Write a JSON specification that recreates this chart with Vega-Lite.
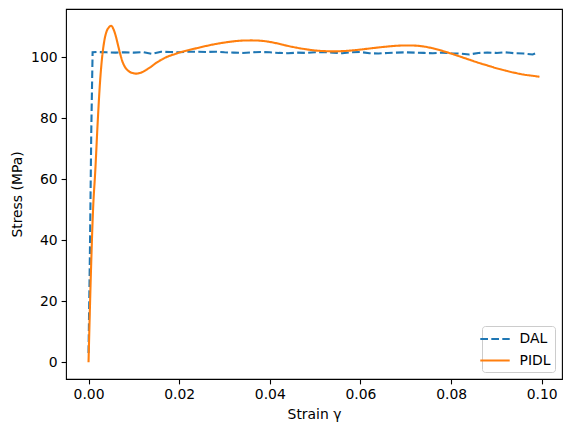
{
  "$schema": "https://vega.github.io/schema/vega-lite/v6.json",
  "width": 496,
  "height": 370,
  "autosize": {"type": "none"},
  "padding": {"left": 66, "top": 9, "right": 9, "bottom": 53},
  "config": {
    "font": "DejaVu Sans",
    "view": {"stroke": "black", "strokeWidth": 1.1},
    "axis": {
      "grid": false,
      "domain": false,
      "tickColor": "black",
      "tickSize": 4.9,
      "tickWidth": 1.1,
      "labelPadding": 4,
      "labelFontSize": 13.9,
      "labelColor": "black",
      "labelFont": "DejaVu Sans",
      "titleFont": "DejaVu Sans",
      "titleFontSize": 13.9,
      "titleFontWeight": "normal",
      "titleColor": "black"
    }
  },
  "datasets": {
    "dal": [
      {"strain": 0, "stress": 3},
      {"strain": 0.0003, "stress": 35},
      {"strain": 0.0006, "stress": 75},
      {"strain": 0.0009, "stress": 101.6},
      {"strain": 0.002, "stress": 101.7},
      {"strain": 0.004, "stress": 101.6},
      {"strain": 0.006, "stress": 101.5},
      {"strain": 0.008, "stress": 101.6},
      {"strain": 0.010, "stress": 101.5},
      {"strain": 0.012, "stress": 101.7},
      {"strain": 0.014, "stress": 101.1},
      {"strain": 0.016, "stress": 101.8},
      {"strain": 0.018, "stress": 101.7},
      {"strain": 0.020, "stress": 101.6},
      {"strain": 0.022, "stress": 101.8},
      {"strain": 0.024, "stress": 101.8},
      {"strain": 0.026, "stress": 101.7},
      {"strain": 0.028, "stress": 101.8},
      {"strain": 0.030, "stress": 101.6},
      {"strain": 0.032, "stress": 101.5},
      {"strain": 0.034, "stress": 101.4},
      {"strain": 0.036, "stress": 101.6},
      {"strain": 0.038, "stress": 101.7},
      {"strain": 0.040, "stress": 101.6},
      {"strain": 0.042, "stress": 101.4},
      {"strain": 0.044, "stress": 101.3},
      {"strain": 0.046, "stress": 101.5},
      {"strain": 0.048, "stress": 101.4},
      {"strain": 0.050, "stress": 101.6},
      {"strain": 0.052, "stress": 101.7},
      {"strain": 0.054, "stress": 101.5},
      {"strain": 0.056, "stress": 101.3},
      {"strain": 0.058, "stress": 101.6},
      {"strain": 0.060, "stress": 101.7},
      {"strain": 0.062, "stress": 101.3},
      {"strain": 0.064, "stress": 101.2},
      {"strain": 0.066, "stress": 101.4},
      {"strain": 0.068, "stress": 101.5},
      {"strain": 0.070, "stress": 101.6},
      {"strain": 0.072, "stress": 101.5},
      {"strain": 0.074, "stress": 101.4},
      {"strain": 0.076, "stress": 101.3},
      {"strain": 0.078, "stress": 101.5},
      {"strain": 0.080, "stress": 101.3},
      {"strain": 0.082, "stress": 101.2},
      {"strain": 0.084, "stress": 100.9},
      {"strain": 0.086, "stress": 101.4},
      {"strain": 0.088, "stress": 101.5},
      {"strain": 0.090, "stress": 101.4},
      {"strain": 0.092, "stress": 101.6},
      {"strain": 0.094, "stress": 101.3},
      {"strain": 0.096, "stress": 101.2},
      {"strain": 0.098, "stress": 100.9},
      {"strain": 0.099, "stress": 101.5}
    ],
    "pidl": [
      {"strain": 0, "stress": 0},
      {"strain": 0.0005, "stress": 28},
      {"strain": 0.001, "stress": 50},
      {"strain": 0.0015, "stress": 63},
      {"strain": 0.002, "stress": 78},
      {"strain": 0.0025, "stress": 91},
      {"strain": 0.003, "stress": 100},
      {"strain": 0.0035, "stress": 105.5},
      {"strain": 0.004, "stress": 108.5},
      {"strain": 0.0045, "stress": 109.8},
      {"strain": 0.005, "stress": 110.3},
      {"strain": 0.0055, "stress": 109.2},
      {"strain": 0.006, "stress": 107},
      {"strain": 0.0065, "stress": 104},
      {"strain": 0.007, "stress": 101},
      {"strain": 0.0075, "stress": 98.5},
      {"strain": 0.008, "stress": 96.9},
      {"strain": 0.009, "stress": 95.3},
      {"strain": 0.010, "stress": 94.7},
      {"strain": 0.0105, "stress": 94.6},
      {"strain": 0.011, "stress": 94.7},
      {"strain": 0.012, "stress": 95.2},
      {"strain": 0.013, "stress": 96.1},
      {"strain": 0.014, "stress": 97.1},
      {"strain": 0.015, "stress": 98.2},
      {"strain": 0.016, "stress": 99.1},
      {"strain": 0.017, "stress": 99.9},
      {"strain": 0.018, "stress": 100.5},
      {"strain": 0.019, "stress": 101.0},
      {"strain": 0.020, "stress": 101.5},
      {"strain": 0.022, "stress": 102.3},
      {"strain": 0.024, "stress": 103.0},
      {"strain": 0.026, "stress": 103.7},
      {"strain": 0.028, "stress": 104.3},
      {"strain": 0.030, "stress": 104.8},
      {"strain": 0.032, "stress": 105.2},
      {"strain": 0.034, "stress": 105.45},
      {"strain": 0.036, "stress": 105.5},
      {"strain": 0.038, "stress": 105.4},
      {"strain": 0.040, "stress": 105.0},
      {"strain": 0.042, "stress": 104.4},
      {"strain": 0.044, "stress": 103.7},
      {"strain": 0.046, "stress": 103.1},
      {"strain": 0.048, "stress": 102.6},
      {"strain": 0.050, "stress": 102.2},
      {"strain": 0.052, "stress": 102.0},
      {"strain": 0.054, "stress": 101.9},
      {"strain": 0.056, "stress": 102.0},
      {"strain": 0.058, "stress": 102.2},
      {"strain": 0.060, "stress": 102.5},
      {"strain": 0.062, "stress": 102.85},
      {"strain": 0.064, "stress": 103.2},
      {"strain": 0.066, "stress": 103.5},
      {"strain": 0.068, "stress": 103.75},
      {"strain": 0.070, "stress": 103.85},
      {"strain": 0.072, "stress": 103.8},
      {"strain": 0.074, "stress": 103.5},
      {"strain": 0.076, "stress": 102.9},
      {"strain": 0.078, "stress": 102.1},
      {"strain": 0.080, "stress": 101.2},
      {"strain": 0.082, "stress": 100.2},
      {"strain": 0.084, "stress": 99.2},
      {"strain": 0.086, "stress": 98.2},
      {"strain": 0.088, "stress": 97.3},
      {"strain": 0.090, "stress": 96.4},
      {"strain": 0.092, "stress": 95.6},
      {"strain": 0.094, "stress": 94.9},
      {"strain": 0.096, "stress": 94.3},
      {"strain": 0.098, "stress": 93.9},
      {"strain": 0.0995, "stress": 93.6}
    ]
  },
  "layer": [
    {
      "data": {"name": "dal"},
      "transform": [{"calculate": "'DAL'", "as": "series"}],
      "mark": {"type": "line", "strokeWidth": 2.1, "clip": true},
      "encoding": {
        "x": {"field": "strain", "type": "quantitative"},
        "y": {"field": "stress", "type": "quantitative"},
        "color": {"field": "series", "type": "nominal"},
        "strokeDash": {"field": "series", "type": "nominal"}
      }
    },
    {
      "data": {"name": "pidl"},
      "transform": [{"calculate": "'PIDL'", "as": "series"}],
      "mark": {"type": "line", "strokeWidth": 2.1, "interpolate": "monotone", "clip": true},
      "encoding": {
        "x": {
          "field": "strain",
          "type": "quantitative",
          "title": "Strain γ",
          "scale": {"domain": [-0.00497, 0.10447], "nice": false, "zero": false},
          "axis": {"values": [0, 0.02, 0.04, 0.06, 0.08, 0.1], "format": ".2f", "titlePadding": 6}
        },
        "y": {
          "field": "stress",
          "type": "quantitative",
          "title": "Stress (MPa)",
          "scale": {"domain": [-5.5, 115.8], "nice": false, "zero": false},
          "axis": {"values": [0, 20, 40, 60, 80, 100], "titlePadding": 6}
        },
        "color": {
          "field": "series",
          "type": "nominal",
          "scale": {"domain": ["DAL", "PIDL"], "range": ["#1f77b4", "#ff7f0e"]},
          "legend": {
            "title": null,
            "orient": "bottom-right",
            "offset": 7,
            "symbolType": "M-2.1,0H2.1",
            "symbolSize": 196,
            "symbolStrokeWidth": 2.1,
            "labelFontSize": 13.9,
            "labelFont": "DejaVu Sans",
            "labelColor": "black",
            "labelOffset": 16,
            "rowPadding": 5.5,
            "padding": 4.5,
            "strokeColor": "#cccccc",
            "fillColor": "rgba(255,255,255,0.8)",
            "cornerRadius": 3
          }
        },
        "strokeDash": {
          "field": "series",
          "type": "nominal",
          "scale": {"domain": ["DAL", "PIDL"], "range": [[7.7, 3.3], [1, 0]]}
        }
      }
    }
  ]
}
